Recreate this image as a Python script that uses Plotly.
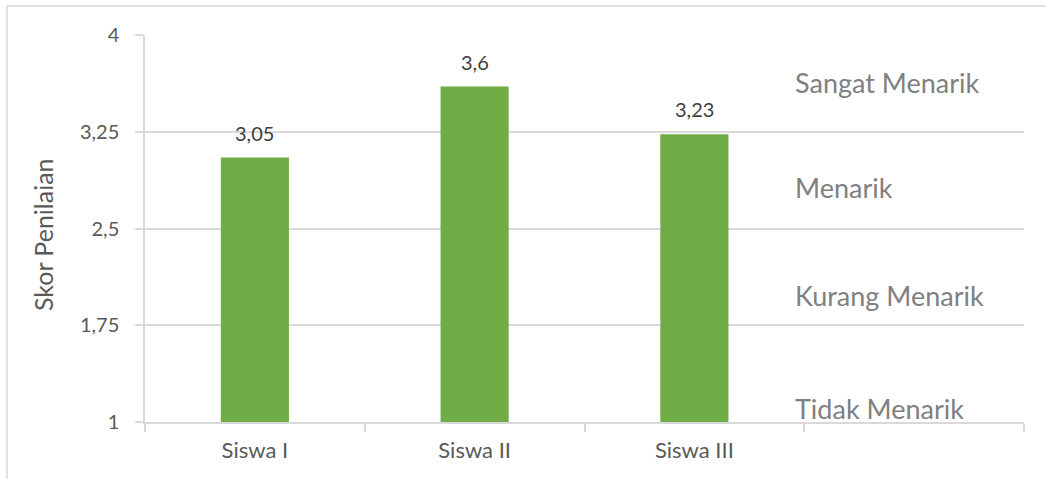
import plotly.graph_objects as go

categories = ["Siswa I", "Siswa II", "Siswa III"]
scores = [3.05, 3.6, 3.23]
y_ticks = [1, 1.75, 2.5, 3.25, 4]
band_labels = ["Sangat Menarik", "Menarik", "Kurang Menarik", "Tidak Menarik"]

FONT = "Lato"
all_cats = categories + [" "]

fig = go.Figure()
fig.add_trace(go.Bar(
    x=categories, y=scores, marker=dict(color="#70ad47", line=dict(width=0)),
    width=0.31, showlegend=False, hoverinfo="x+y",
))

def fmt(v):
    return f"{v:g}".replace(".", ",")

annotations = []
for c, v in zip(categories, scores):
    annotations.append(dict(x=c, y=v, xref="x", yref="y", text=fmt(v), showarrow=False,
                            yanchor="bottom", yshift=11,
                            font=dict(family=FONT, size=20, color="#404040")))

band_y = [0.877, 0.606, 0.328, 0.036]
for lab, yy in zip(band_labels, band_y):
    annotations.append(dict(x=0.737, y=yy, xref="paper", yref="paper", text=lab,
                            showarrow=False, xanchor="left", yanchor="middle",
                            font=dict(family=FONT, size=27, color="#808080")))

annotations.append(dict(x=-0.116, y=0.483, xref="paper", yref="paper", text="Skor Penilaian",
                        showarrow=False, textangle=-90, xanchor="center", yanchor="middle",
                        font=dict(family=FONT, size=25, color="#595959")))

fig.update_layout(
    width=1046, height=479,
    margin=dict(l=145, r=22, t=35, b=57),
    paper_bgcolor="white", plot_bgcolor="white",
    separators=", ",
    annotations=annotations,
    shapes=[dict(type="rect", xref="paper", yref="paper", x0=(7 - 145) / 879, x1=1.2,
                 y0=-0.5, y1=(422 - 6) / 387, line=dict(color="#d9d9d9", width=1.5),
                 fillcolor="rgba(0,0,0,0)", layer="below")],
)
fig.update_xaxes(
    type="category", categoryorder="array", categoryarray=all_cats, range=[-0.5, 3.5],
    tickmode="array", tickvals=all_cats, ticktext=categories + [""],
    tickson="boundaries", ticks="outside", ticklen=8, tickcolor="#d9d9d9", tickwidth=1.5,
    showline=True, linecolor="#d9d9d9", linewidth=1.5, showgrid=False,
    tickfont=dict(family=FONT, size=22, color="#595959"), ticklabelstandoff=8,
)
fig.update_yaxes(
    range=[1, 4], tickmode="array", tickvals=y_ticks, ticktext=[fmt(t) for t in y_ticks],
    ticks="outside", ticklen=8, tickcolor="#d9d9d9", tickwidth=1.5,
    showline=True, linecolor="#d9d9d9", linewidth=1.5,
    showgrid=True, gridcolor="#d9d9d9", gridwidth=1.5, zeroline=False,
    tickfont=dict(family=FONT, size=20, color="#595959"), ticklabelstandoff=12,
)

fig.write_html("out.html")
